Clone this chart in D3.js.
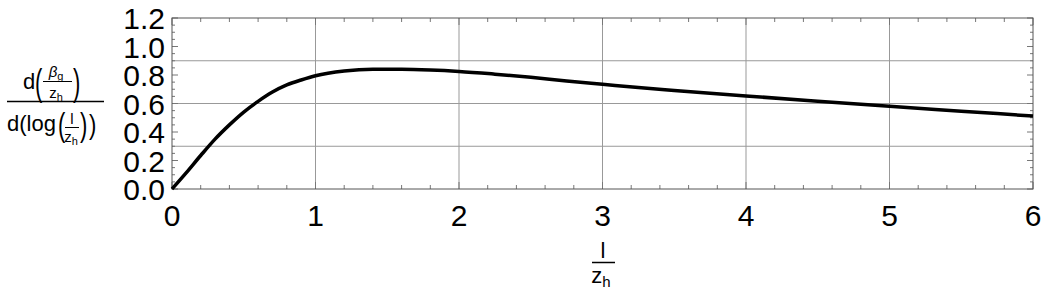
<!DOCTYPE html>
<html>
<head>
<meta charset="utf-8">
<script src="https://cdn.jsdelivr.net/npm/d3@7"></script>
<style>
  body { margin: 0; background: #fff; }
  text { font-family: "Liberation Sans", Arial, sans-serif; fill: #000; }
</style>
</head>
<body>
<svg id="chart" width="1042" height="296"></svg>
<script>
var width = 1042, height = 296;
var margin = {left: 172, right: 9, top: 18, bottom: 107};

// curve
var xs = [0, 0.1, 0.2, 0.3, 0.4, 0.5, 0.6, 0.7, 0.8, 0.9, 1.0, 1.2, 1.4, 1.6, 1.8, 2.0, 2.25, 2.5, 2.75, 3.0, 3.25, 3.5, 4.0, 4.5, 5.0, 5.5, 6.0];
var ys = [0, 0.115, 0.235, 0.35, 0.45, 0.54, 0.615, 0.68, 0.73, 0.765, 0.795, 0.828, 0.84, 0.84, 0.835, 0.825, 0.806, 0.784, 0.758, 0.735, 0.712, 0.692, 0.653, 0.616, 0.580, 0.546, 0.512];

var xTicks = [0, 1, 2, 3, 4, 5, 6];
var yTicks = [0, 0.2, 0.4, 0.6, 0.8, 1.0, 1.2];
var xGrid = [1, 2, 3, 4, 5];
var yGrid = [0.3, 0.6, 0.9];

var svg = d3.select("#chart");

var x = d3.scaleLinear().domain([0, 6]).range([margin.left, width - margin.right]);
var y = d3.scaleLinear().domain([0, 1.2]).range([height - margin.bottom, margin.top]);

// grid
svg.selectAll(".vg").data(xGrid).enter().append("line")
  .attr("x1", d => x(d)).attr("x2", d => x(d))
  .attr("y1", y(0)).attr("y2", y(1.2))
  .attr("stroke", "#999").attr("stroke-width", 1);
svg.selectAll(".hg").data(yGrid).enter().append("line")
  .attr("x1", x(0)).attr("x2", x(6))
  .attr("y1", d => y(d)).attr("y2", d => y(d))
  .attr("stroke", "#999").attr("stroke-width", 1);

// minor ticks
var xMinor = d3.range(0, 6.001, 0.2).filter(v => Math.abs(v - Math.round(v)) > 1e-6);
var yMinor = d3.range(0, 1.2001, 0.05).filter(v => Math.abs(v * 5 - Math.round(v * 5)) > 1e-6);

function ticksX(vals, len) {
  vals.forEach(function(v) {
    svg.append("line").attr("x1", x(v)).attr("x2", x(v))
      .attr("y1", y(0)).attr("y2", y(0) - len).attr("stroke", "#777");
    svg.append("line").attr("x1", x(v)).attr("x2", x(v))
      .attr("y1", y(1.2)).attr("y2", y(1.2) + len).attr("stroke", "#777");
  });
}
function ticksY(vals, len) {
  vals.forEach(function(v) {
    svg.append("line").attr("x1", x(0)).attr("x2", x(0) + len)
      .attr("y1", y(v)).attr("y2", y(v)).attr("stroke", "#777");
    svg.append("line").attr("x1", x(6)).attr("x2", x(6) - len)
      .attr("y1", y(v)).attr("y2", y(v)).attr("stroke", "#777");
  });
}
ticksX(xMinor, 4);
ticksX(xTicks, 7);
ticksY(yMinor, 3);
ticksY(yTicks, 6);

// frame
svg.append("rect")
  .attr("x", x(0)).attr("y", y(1.2))
  .attr("width", x(6) - x(0)).attr("height", y(0) - y(1.2))
  .attr("fill", "none").attr("stroke", "#555").attr("stroke-width", 1);

// tick labels
svg.selectAll(".xl").data(xTicks).enter().append("text")
  .attr("x", d => x(d)).attr("y", y(0) + 37)
  .attr("text-anchor", "middle").attr("font-size", 30)
  .text(d => d);
svg.selectAll(".yl").data(yTicks).enter().append("text")
  .attr("x", x(0) - 7).attr("y", d => y(d) + 11)
  .attr("text-anchor", "end").attr("font-size", 30)
  .text(d => d.toFixed(1));

// curve
var pts = xs.map((v, i) => [v, ys[i]]);
var line = d3.line().x(d => x(d[0])).y(d => y(d[1])).curve(d3.curveMonotoneX);
svg.append("path").datum(pts)
  .attr("d", line)
  .attr("fill", "none").attr("stroke", "#000").attr("stroke-width", 3.5);

// x axis label: l / z_h
var xl = svg.append("g");
xl.append("text").attr("x", 603).attr("y", 258).attr("text-anchor", "middle").attr("font-size", 22).text("l");
xl.append("line").attr("x1", 592).attr("x2", 615).attr("y1", 262.5).attr("y2", 262.5).attr("stroke", "#000").attr("stroke-width", 1.5);
var zt = xl.append("text").attr("x", 601).attr("y", 283).attr("text-anchor", "middle").attr("font-size", 22);
zt.append("tspan").text("z");
zt.append("tspan").attr("font-size", 15).attr("dy", 4).text("h");

// y axis label
var yl = svg.append("g");
yl.append("text").attr("x", 23).attr("y", 89).attr("font-size", 22).text("d");
yl.append("text").attr("x", 35).attr("y", 95).attr("font-size", 22)
  .attr("transform", "translate(35,95) scale(1,1.7) translate(-35,-95)").text("(");
var bt = yl.append("text").attr("x", 56).attr("y", 77).attr("text-anchor", "middle").attr("font-size", 15);
bt.append("tspan").attr("font-style", "italic").text("β");
bt.append("tspan").attr("font-size", 11).attr("dy", 3).text("g");
yl.append("line").attr("x1", 43).attr("x2", 72).attr("y1", 81.5).attr("y2", 81.5).attr("stroke", "#000").attr("stroke-width", 1);
var z1 = yl.append("text").attr("x", 56).attr("y", 98).attr("text-anchor", "middle").attr("font-size", 15);
z1.append("tspan").text("z");
z1.append("tspan").attr("font-size", 11).attr("dy", 3).text("h");
yl.append("text").attr("x", 73).attr("y", 95).attr("font-size", 22)
  .attr("transform", "translate(73,95) scale(1,1.7) translate(-73,-95)").text(")");

yl.append("line").attr("x1", 7).attr("x2", 104).attr("y1", 101.5).attr("y2", 101.5).attr("stroke", "#000").attr("stroke-width", 1.5);

yl.append("text").attr("x", 7).attr("y", 131).attr("font-size", 22).text("d(log");
yl.append("text").attr("x", 58).attr("y", 136).attr("font-size", 22)
  .attr("transform", "translate(58,136) scale(1,1.5) translate(-58,-136)").text("(");
yl.append("text").attr("x", 72).attr("y", 124).attr("text-anchor", "middle").attr("font-size", 15).text("l");
yl.append("line").attr("x1", 65).attr("x2", 79).attr("y1", 127.5).attr("y2", 127.5).attr("stroke", "#000").attr("stroke-width", 1);
var z2 = yl.append("text").attr("x", 71).attr("y", 142).attr("text-anchor", "middle").attr("font-size", 15);
z2.append("tspan").text("z");
z2.append("tspan").attr("font-size", 11).attr("dy", 3).text("h");
yl.append("text").attr("x", 80).attr("y", 136).attr("font-size", 22)
  .attr("transform", "translate(80,136) scale(1,1.5) translate(-80,-136)").text(")");
yl.append("text").attr("x", 89).attr("y", 134).attr("font-size", 22)
  .attr("transform", "translate(89,134) scale(1,1.25) translate(-89,-134)").text(")");
</script>
</body>
</html>
